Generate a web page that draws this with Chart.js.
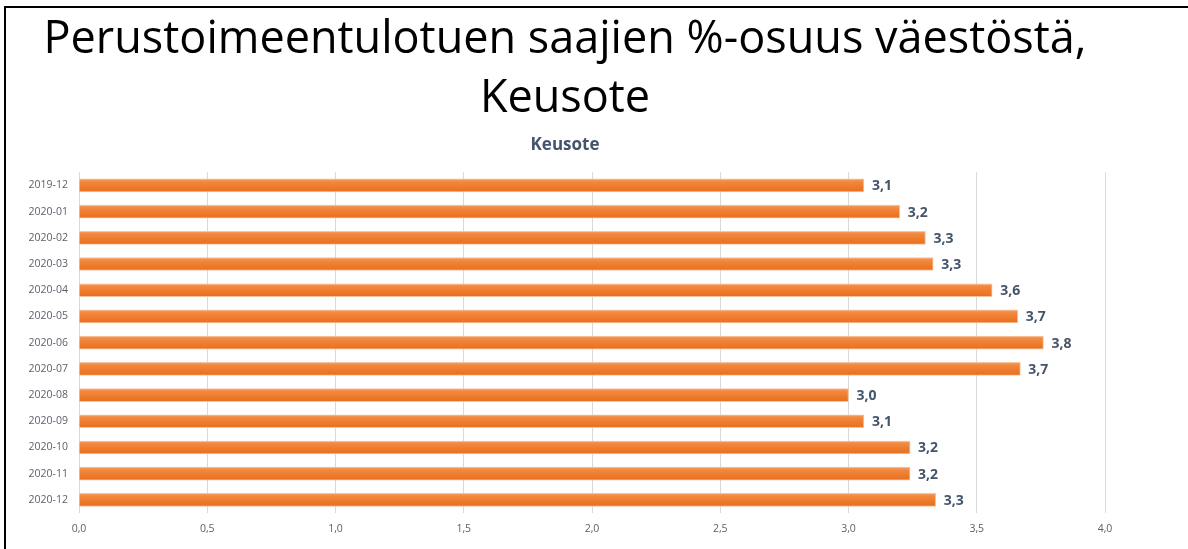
<!DOCTYPE html>
<html>
<head>
<meta charset="utf-8">
<script src="https://cdn.jsdelivr.net/npm/chart.js@4/dist/chart.umd.min.js"></script>
<style>
  html, body { margin: 0; padding: 0; background: #ffffff; }
  #wrap { position: relative; width: 1188px; height: 549px; overflow: hidden; }
  #frame { position: absolute; left: 4px; top: 6px; width: 1300px; height: 600px;
           border-top: 2.5px solid #000; border-left: 2.5px solid #000; pointer-events: none; }
</style>
</head>
<body>
<div id="wrap">
  <canvas id="c" width="1188" height="549"></canvas>
  <div id="frame"></div>
</div>
<script>
const titleLines = ["Perustoimeentulotuen saajien %-osuus väestöstä,", "Keusote"];
const subtitleText = "Keusote";
const categories = ["2019-12","2020-01","2020-02","2020-03","2020-04","2020-05","2020-06",
                    "2020-07","2020-08","2020-09","2020-10","2020-11","2020-12"];
const shares = [3.06, 3.20, 3.30, 3.33, 3.56, 3.66, 3.76, 3.67, 3.00, 3.06, 3.24, 3.24, 3.34];
const axisMin = 0, axisMax = 4, axisStep = 0.5;

const fmt = v => Number(v).toFixed(1).replace('.', ',');

const barLabels = {
  id: 'barLabels',
  afterDatasetsDraw(chart) {
    const ctx = chart.ctx;
    const meta = chart.getDatasetMeta(0);
    ctx.save();
    ctx.font = "bold 14px 'Open Sans'";
    ctx.fillStyle = '#44546A';
    ctx.textAlign = 'left';
    ctx.textBaseline = 'middle';
    meta.data.forEach((el, i) => {
      ctx.fillText(fmt(chart.data.datasets[0].data[i]), el.x + 8, el.y + 1);
    });
    ctx.restore();
  }
};

const barFill = (c) => {
  const chart = c.chart;
  const s = chart.scales && chart.scales.y;
  if (!s || !chart.chartArea || c.dataIndex === undefined) return '#ED7D31';
  const yc = s.getPixelForValue(c.dataIndex);
  const g = chart.ctx.createLinearGradient(0, yc - 6.5, 0, yc + 6.5);
  g.addColorStop(0, '#F4A16A');
  g.addColorStop(0.2, '#F2893F');
  g.addColorStop(0.6, '#EE7B2D');
  g.addColorStop(1, '#E86E1E');
  return g;
};

new Chart(document.getElementById('c'), {
  type: 'bar',
  data: {
    labels: categories,
    datasets: [{
      data: shares,
      backgroundColor: barFill,
      borderColor: 'rgba(247,190,150,0.9)',
      borderWidth: 1,
      borderSkipped: 'start',
      barThickness: 13
    }]
  },
  options: {
    indexAxis: 'y',
    responsive: false,
    animation: false,
    layout: { padding: { left: 25, right: 83, top: 0, bottom: 0 } },
    plugins: {
      legend: { display: false },
      tooltip: { enabled: false },
      title: {
        display: true,
        text: titleLines,
        color: '#000000',
        font: { family: "'Open Sans'", size: 45, weight: 'normal', lineHeight: 1.31 },
        padding: { top: 11, bottom: 6 }
      },
      subtitle: {
        display: true,
        text: subtitleText,
        color: '#44546A',
        font: { family: "'Open Sans'", size: 17, weight: 'bold', lineHeight: 1.2 },
        padding: { top: 0, bottom: 17 }
      }
    },
    scales: {
      x: {
        min: axisMin, max: axisMax,
        ticks: {
          stepSize: axisStep,
          callback: v => fmt(v),
          color: '#595F6B',
          font: { family: "'Open Sans'", size: 10.5 },
          padding: 10
        },
        grid: { color: '#D9D9D9', lineWidth: 1, drawTicks: false },
        border: { display: false },
        afterFit(scale) { scale.height = 36; }
      },
      y: {
        ticks: {
          color: '#595F6B',
          font: { family: "'Open Sans'", size: 10.5 },
          padding: 11,
          autoSkip: false
        },
        grid: { display: false, drawTicks: false },
        border: { display: false },
        afterFit(scale) { scale.width = 54; }
      }
    }
  },
  plugins: [barLabels]
});
</script>
</body>
</html>
